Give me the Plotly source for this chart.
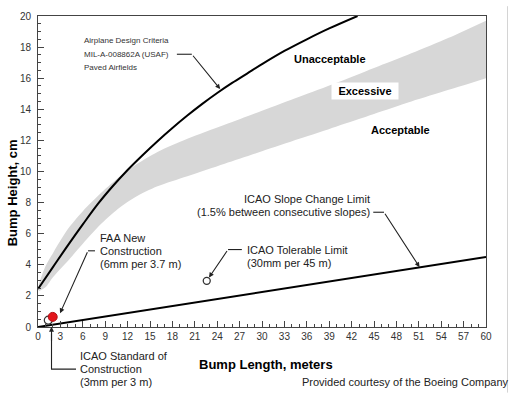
import plotly.graph_objects as go

# ---------------- data ----------------
# MIL-A-008862A (USAF) paved airfields criterion curve
mil_x = [0, 2, 4, 6, 8, 10, 12, 14, 16, 18, 20, 22, 24, 26, 28, 30, 33, 36, 39, 42.8]
mil_y = [2.45, 3.85, 5.25, 6.6, 7.9, 9.05, 10.1, 11.05, 11.95, 12.8, 13.6, 14.35, 15.05, 15.7, 16.3, 16.9, 17.75, 18.5, 19.2, 20.0]

# "Excessive" band (grey) edges
band_x = [0.1, 1, 2, 4, 6, 8.5, 11, 13, 16, 20, 25, 30, 35, 40, 45, 50, 55, 60]
band_upper = [2.75, 3.9, 4.75, 6.3, 7.45, 8.65, 9.7, 10.4, 11.25, 12.1, 13.0, 13.9, 14.8, 15.7, 16.65, 17.6, 18.6, 19.7]
band_lower = [2.3, 2.55, 3.2, 4.25, 5.35, 6.65, 7.7, 8.35, 9.05, 9.7, 10.5, 11.3, 12.1, 12.9, 13.7, 14.5, 15.25, 16.0]

# ICAO slope change limit line
icao_x = [0, 60]
icao_y = [0, 4.5]

# Reference points
icao_std_x = [1.38]
icao_std_y = [0.44]
faa_x = [1.97]
faa_y = [0.65]
icao_tol_x = [22.6]
icao_tol_y = [2.97]

x_ticks = list(range(0, 61, 3))
y_ticks = list(range(0, 21, 2))

FONT = "Arial, Liberation Sans, sans-serif"
DARK = "#222222"

fig = go.Figure()

# grey band between lower and upper edges
fig.add_trace(go.Scatter(x=band_x, y=band_lower, mode="lines",
                         line=dict(width=0, color="#d7d7d7", shape="spline", smoothing=0.8),
                         hoverinfo="skip"))
fig.add_trace(go.Scatter(x=band_x, y=band_upper, mode="lines", fill="tonexty",
                         fillcolor="#d7d7d7",
                         line=dict(width=0, color="#d7d7d7", shape="spline", smoothing=0.8),
                         hoverinfo="skip"))

fig.add_trace(go.Scatter(x=mil_x, y=mil_y, mode="lines",
                         line=dict(color="black", width=2, shape="spline", smoothing=1.0)))
fig.add_trace(go.Scatter(x=icao_x, y=icao_y, mode="lines",
                         line=dict(color="black", width=2)))

fig.add_trace(go.Scatter(x=icao_std_x, y=icao_std_y, mode="markers",
                         marker=dict(size=8, color="white", line=dict(color="#333", width=1.2))))
fig.add_trace(go.Scatter(x=faa_x, y=faa_y, mode="markers",
                         marker=dict(size=9, color="#e3161c", line=dict(color="#b01015", width=1))))
fig.add_trace(go.Scatter(x=icao_tol_x, y=icao_tol_y, mode="markers",
                         marker=dict(size=7, color="white", line=dict(color="#333", width=1.3))))

ann = []
shapes = []

def txt(x, y, s, size=11, bold=False, xanchor="left", xref="x", yref="y", color=DARK, **kw):
    ann.append(dict(x=x, y=y, xref=xref, yref=yref, text=("<b>%s</b>" % s) if bold else s,
                    showarrow=False, xanchor=xanchor, yanchor="middle",
                    font=dict(family=FONT, size=size, color=color), **kw))

def arrow(x, y, ax, ay):
    ann.append(dict(x=x, y=y, xref="x", yref="y", axref="x", ayref="y", ax=ax, ay=ay,
                    text="", showarrow=True, arrowhead=2, arrowsize=0.9, arrowwidth=1.1,
                    arrowcolor="#222", standoff=0))

def path(pts, xref="x", yref="y"):
    d = "M " + " L ".join("%g,%g" % p for p in pts)
    shapes.append(dict(type="path", path=d, xref=xref, yref=yref,
                       line=dict(color="#222", width=1.1)))

# Airplane design criteria
txt(5.9, 18.42, "Airplane Design Criteria", size=8, color="#333")
txt(5.9, 17.54, "MIL-A-008862A (USAF)", size=8, color="#333")
txt(5.9, 16.72, "Paved Airfields", size=8, color="#333")
path([(18.6, 17.54), (20.6, 17.54)])
arrow(24.4, 15.3, 20.6, 17.54)

# Region labels
txt(39.1, 17.22, "Unacceptable", size=11, bold=True, xanchor="center", color="black")
ann.append(dict(x=43.8, y=15.17, xref="x", yref="y", text="<b>Excessive</b>", showarrow=False,
                xanchor="center", yanchor="middle", bgcolor="white", width=64, height=14,
                font=dict(family=FONT, size=11, color="black")))
txt(48.6, 12.68, "Acceptable", size=11, bold=True, xanchor="center", color="black")

# ICAO slope change limit
txt(44.73, 8.26, "ICAO Slope Change Limit", size=11, xanchor="right")
txt(44.73, 7.38, "(1.5% between consecutive slopes)", size=11, xanchor="right")
path([(44.9, 7.38), (46.34, 7.38)])
arrow(51.1, 3.85, 46.34, 7.38)

# ICAO tolerable limit
txt(27.72, 4.98, "ICAO Tolerable Limit", size=11)
txt(27.72, 4.10, "(30mm per 45 m)", size=11)
path([(27.3, 4.98), (25.45, 4.98)])
arrow(22.9, 3.18, 25.45, 4.98)

# FAA new construction
txt(8.04, 5.74, "FAA New", size=11)
txt(8.04, 4.90, "Construction", size=11)
txt(8.04, 4.06, "(6mm per 3.7 m)", size=11)
path([(7.63, 4.90), (6.70, 4.90)])
arrow(2.95, 0.88, 6.70, 4.90)

# ICAO standard of construction (below axis)
txt(5.36, -0.0946, "ICAO Standard of", size=11, yref="paper")
txt(5.36, -0.1356, "Construction", size=11, yref="paper")
txt(5.36, -0.1767, "(3mm per 3 m)", size=11, yref="paper")
path([(5.09, -0.1356), (1.81, -0.1356), (1.81, -0.02)], yref="paper")
ann.append(dict(x=1.81, y=0.02, xref="x", yref="y", axref="x", ayref="y", ax=1.81, ay=-1.0,
                text="", showarrow=True, arrowhead=2, arrowsize=0.9, arrowwidth=1.1,
                arrowcolor="#222", standoff=0))

# Axis titles & credit
txt(0.509, -0.12, "Bump Length, meters", size=13, bold=True, xanchor="center",
    xref="paper", yref="paper", color="black")
ann.append(dict(x=-0.058, y=0.43, xref="paper", yref="paper", text="<b>Bump Height, cm</b>",
                showarrow=False, textangle=-90, xanchor="center", yanchor="middle",
                font=dict(family=FONT, size=13, color="black")))
txt(1.056, -0.177, "Provided courtesy of the Boeing Company", size=11, xanchor="right",
    xref="paper", yref="paper")

# faint right border of the original picture
shapes.append(dict(type="line", xref="paper", yref="paper", x0=1.048, x1=1.048, y0=-0.211, y1=1.0315,
                   line=dict(color="#d4d4d4", width=1)))

fig.update_layout(
    width=513, height=394,
    margin=dict(l=38, r=27, t=10, b=67),
    plot_bgcolor="white", paper_bgcolor="white",
    showlegend=False,
    font=dict(family=FONT, size=10, color="#333"),
    annotations=ann, shapes=shapes,
    xaxis=dict(range=[0, 60], tickvals=x_ticks, ticks="inside", ticklen=6, tickcolor="#444",
               showgrid=False, zeroline=False, showline=True, mirror=True,
               linecolor="#444", linewidth=1, tickfont=dict(size=10, color="#333"),
               minor=dict(ticks="inside", ticklen=3, dtick=1, tick0=0, tickcolor="#444", showgrid=False)),
    yaxis=dict(range=[0, 20], tickvals=y_ticks, ticks="inside", ticklen=6, tickcolor="#444",
               showgrid=False, zeroline=False, showline=True, mirror=True,
               linecolor="#444", linewidth=1, tickfont=dict(size=10, color="#333"),
               ticklabelstandoff=4,
               minor=dict(ticks="inside", ticklen=3, dtick=0.5, tick0=0, tickcolor="#444", showgrid=False)),
)

fig.write_html("out.html", config={"displayModeBar": False},
               post_script="document.body.style.margin='0';document.body.style.padding='0';")
